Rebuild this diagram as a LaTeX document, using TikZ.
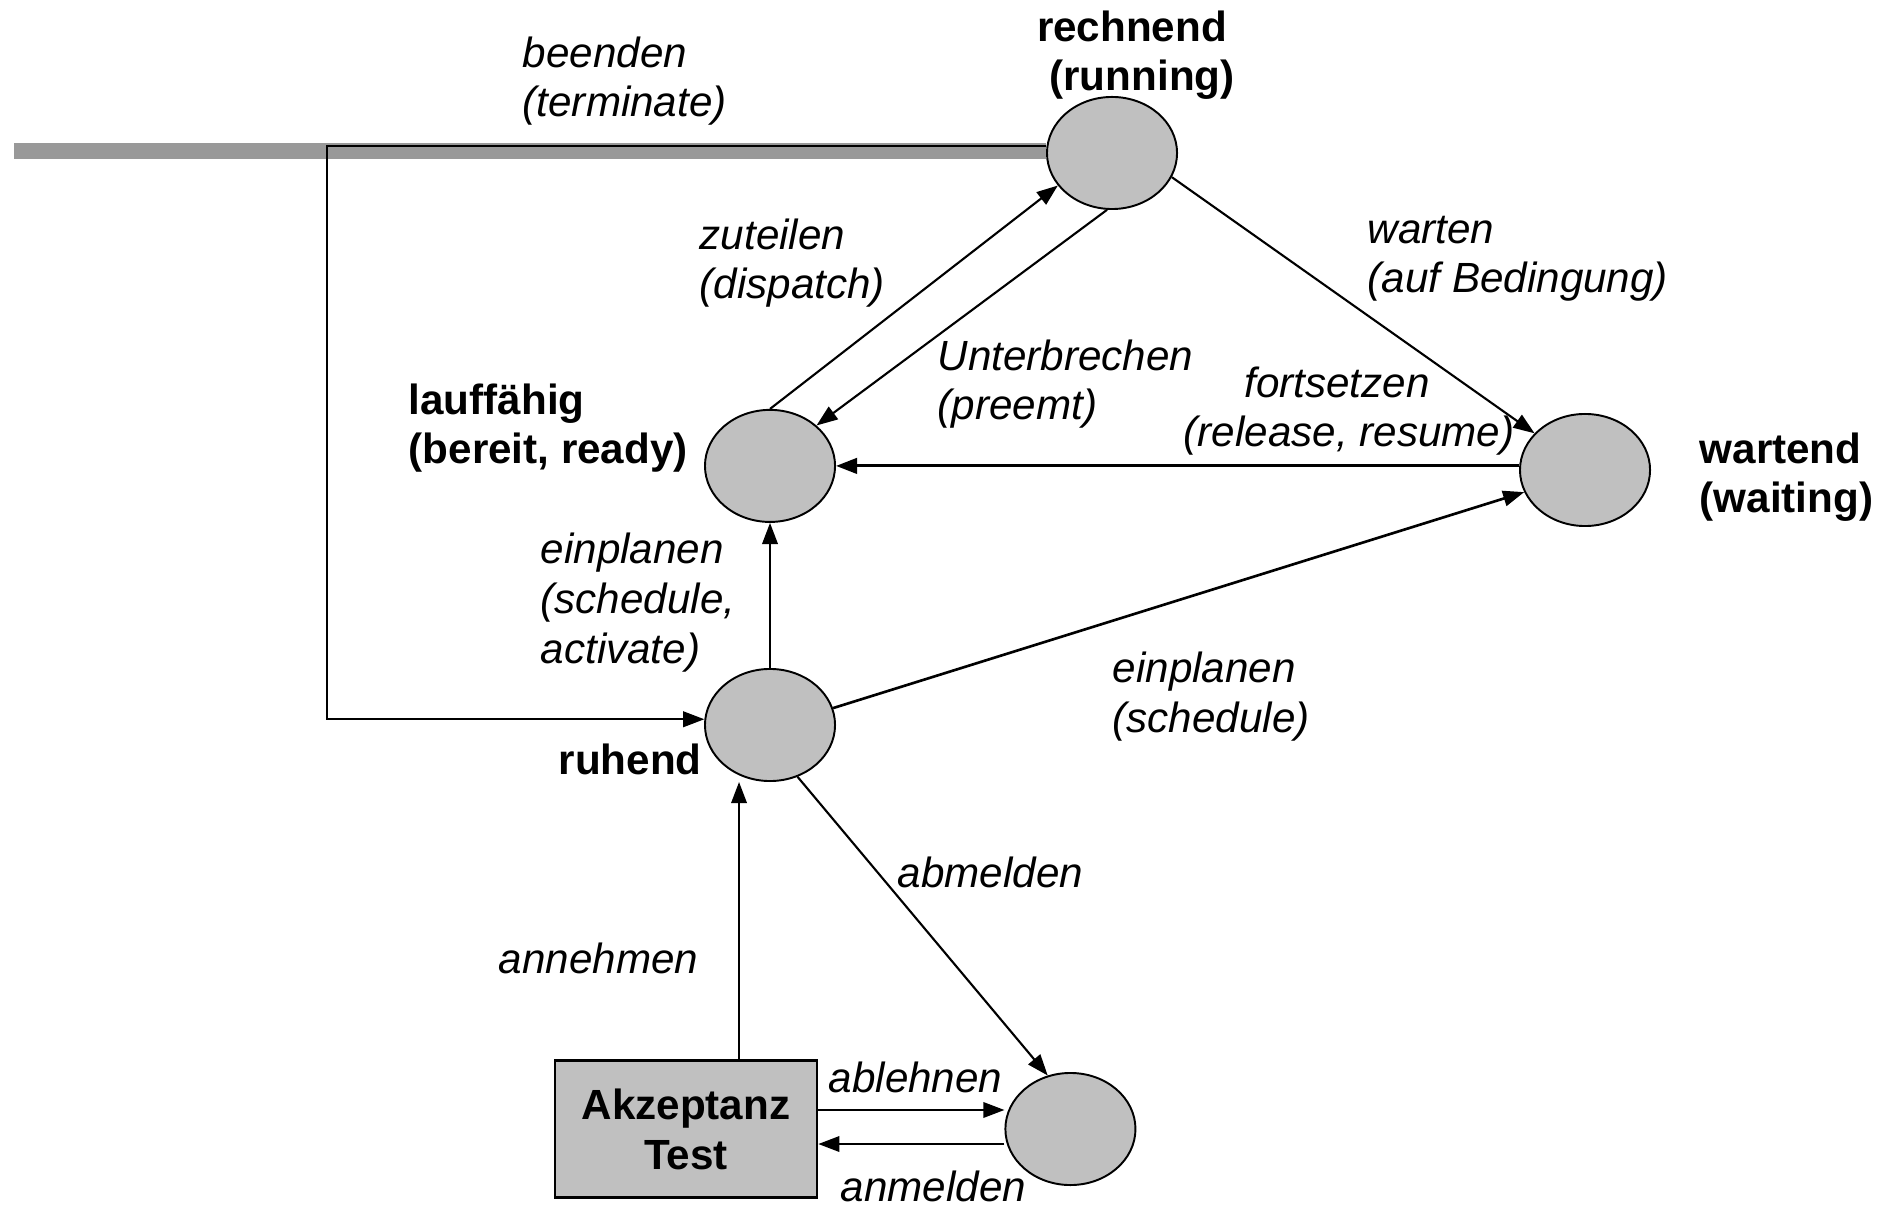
\documentclass[tikz,border=0pt]{standalone}
\usepackage{fontspec}
\setmainfont{Liberation Sans}
\usepackage{xcolor}
\usetikzlibrary{shapes.geometric, arrows.meta, positioning}
\definecolor{zustandgrau}{HTML}{C0C0C0}
\definecolor{balkengrau}{HTML}{999999}

\begin{document}
\begin{tikzpicture}[x=0.01cm, y=-0.01cm,
        zustand/.style={draw, ellipse, fill=zustandgrau, line width=0.55pt, minimum width=1.3cm, minimum height=1.12cm, inner sep=0pt},
        pfeil/.style={line width=0.6pt, -{Triangle[length=6pt, width=4.4pt]}},
        titel/.style={font=\fontsize{12pt}{14.2pt}\selectfont\bfseries, align=left, inner sep=0pt},
        aktion/.style={font=\fontsize{12pt}{14.2pt}\selectfont\itshape, align=left, inner sep=0pt, anchor=base west}]
                \useasboundingbox (0,0) rectangle (1877,1207);
                \node[zustand] (rech) at (1112,153) {};
                \node[zustand] (ruh) at (770,725) {};
                \node[zustand, above=1.45cm of ruh] (lauf) {};
                \node[zustand] (wart) at (1585,470) {};
                \node[draw, fill=zustandgrau, line width=0.7pt, minimum width=2.62cm, minimum height=1.37cm, font=\fontsize{12pt}{14.2pt}\selectfont\bfseries, align=center] (akz) at (686,1129) {Akzeptanz\\Test};
                \node[zustand, right=1.86cm of akz] (abgel) {};

                \node[titel, anchor=base, align=center] (rech-t) at (1142,91) {rechnend\hspace*{0.2cm}\\(running)};
                \node[titel, anchor=base west] (lauf-t) at (408,464) {lauffähig\\(bereit, ready)};
                \node[titel, anchor=base west] (wart-t) at (1699,513) {wartend\\(waiting)};
                \node[titel, anchor=base west] (ruh-t) at (558,774) {ruhend};

                \node[aktion] (beenden) at (522,117) {beenden\\(terminate)};
                \node[aktion] (zuteilen) at (699,299) {zuteilen\\(dispatch)};
                \node[aktion] (unterbr) at (937,420) {Unterbrechen\\(preemt)};
                \node[aktion] (warten) at (1367,293) {warten\\(auf Bedingung)};
                \node[aktion, anchor=base, align=center] (fortsetzen) at (1349,447) {fortsetzen\hspace*{0.24cm}\\(release, resume)};
                \node[aktion] (einpl-a) at (540,663) {einplanen\\(schedule,\\activate)};
                \node[aktion] (einpl-b) at (1112,732) {einplanen\\(schedule)};
                \node[aktion] (abmelden) at (897,887) {abmelden};
                \node[aktion] (annehmen) at (498,973) {annehmen};
                \node[aktion] (ablehnen) at (828,1092) {ablehnen};
                \node[aktion] (anmelden) at (840,1201) {anmelden};

                \coordinate (balken) at (14,151);
                \draw[balkengrau, line width=0.16cm] (balken) -- (balken -| rech.west);
                \coordinate (knick) at (327,146);
                \draw[pfeil] (knick -| rech.west) -- (knick) |- (ruh.175);

                \draw[pfeil] (lauf.north) -- (rech.211);
                \draw[pfeil] (rech.265) -- (lauf.41);
                \draw[pfeil] (rech.338) -- (wart.144);
                \draw[pfeil, line width=0.85pt] (wart.west |- lauf.east) -- (lauf.east);
                \draw[pfeil, line width=0.75pt] (ruh.15) -- (wart.200);
                \draw[pfeil] (ruh.north) -- (lauf.south);
                \draw[pfeil] (ruh.298) -- (abgel.113);

                \coordinate (ann) at ([xshift=0.53cm]akz.north);
                \draw[pfeil] (ann) -- (ann |- ruh.south);
                \coordinate (abl) at ([yshift=0.19cm]akz.east);
                \draw[pfeil] (abl) -- (abl -| abgel.west);
                \coordinate (anm) at ([yshift=-0.15cm]akz.east);
                \draw[pfeil] (anm -| abgel.west) -- (anm);
            \end{tikzpicture}
\end{document}
